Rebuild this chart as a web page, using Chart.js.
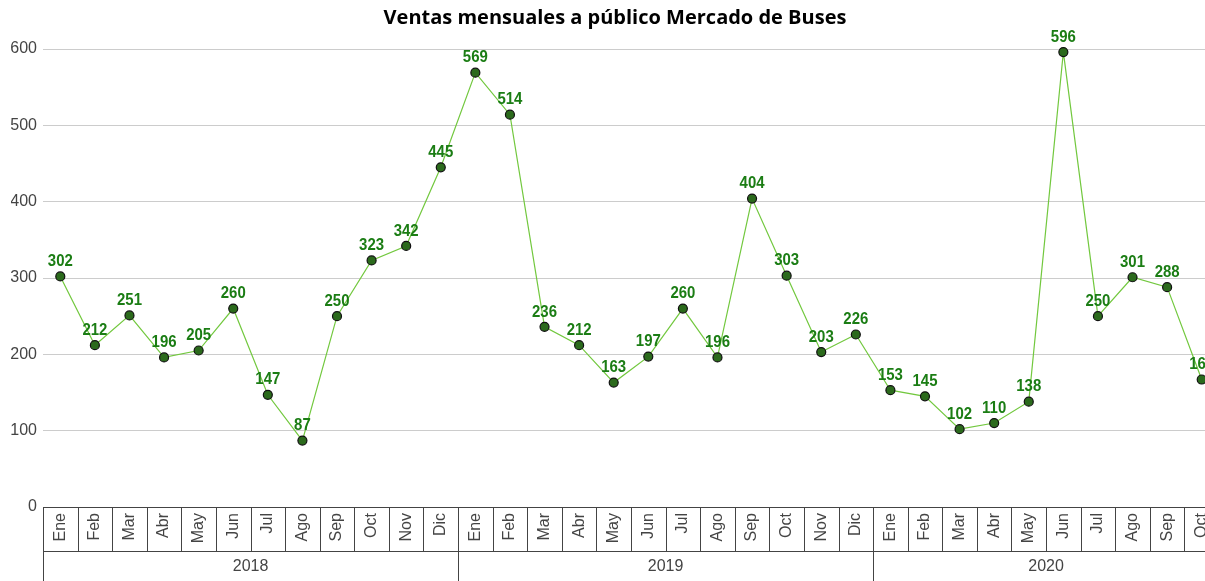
<!DOCTYPE html>
<html>
<head>
<meta charset="utf-8">
<script src="https://cdn.jsdelivr.net/npm/chart.js@4.4.1/dist/chart.umd.min.js"></script>
<style>
  html, body { margin: 0; padding: 0; overflow: hidden; background: #fff; }
  #wrap { width: 1230px; height: 581px; }
</style>
</head>
<body>
<div id="wrap"><canvas id="c" width="1230" height="581"></canvas></div>
<script>
const months = ["Ene","Feb","Mar","Abr","May","Jun","Jul","Ago","Sep","Oct","Nov","Dic",
                "Ene","Feb","Mar","Abr","May","Jun","Jul","Ago","Sep","Oct","Nov","Dic",
                "Ene","Feb","Mar","Abr","May","Jun","Jul","Ago","Sep","Oct"];
const years = ["2018","2019","2020"];
const yearStarts = [0, 12, 24];
const yearCounts = [12, 12, 10];
const sales = [302,212,251,196,205,260,147,87,250,323,342,445,
               569,514,236,212,163,197,260,196,404,303,203,226,
               153,145,102,110,138,596,250,301,288,167];
const yTicks = [0,100,200,300,400,500,600];
const titleText = "Ventas mensuales a público Mercado de Buses";

const labelsPlugin = {
  id: 'valueLabels',
  afterDatasetsDraw(chart) {
    const ctx = chart.ctx;
    const meta = chart.getDatasetMeta(0);
    ctx.save();
    ctx.font = 'bold 17px "Liberation Sans", Arial';
    ctx.fillStyle = '#1b7d14';
    ctx.textAlign = 'center';
    ctx.textBaseline = 'middle';
    meta.data.forEach((pt, i) => {
      ctx.save();
      ctx.translate(pt.x, pt.y - 15);
      ctx.scale(0.88, 1);
      ctx.fillText(String(sales[i]), 0, 0);
      ctx.restore();
    });
    ctx.restore();
  }
};

const tablePlugin = {
  id: 'catTable',
  afterDraw(chart) {
    const ctx = chart.ctx;
    const xs = chart.scales.x;
    const area = chart.chartArea;
    const n = months.length;
    const half = (xs.getPixelForValue(1) - xs.getPixelForValue(0)) / 2;
    const left = xs.getPixelForValue(0) - half;
    const right = xs.getPixelForValue(n - 1) + half;
    const top = area.bottom;
    const mid = top + 44;
    const bottom = chart.height;
    ctx.save();
    ctx.strokeStyle = '#444';
    ctx.lineWidth = 1;
    ctx.beginPath();
    ctx.moveTo(left, Math.round(top) + 0.5); ctx.lineTo(right, Math.round(top) + 0.5);
    ctx.moveTo(left, Math.round(mid) + 0.5); ctx.lineTo(right, Math.round(mid) + 0.5);
    for (let i = 0; i <= n; i++) {
      const x = Math.round(xs.getPixelForValue(i) - half) + 0.5;
      const isYear = yearStarts.includes(i) || i === n;
      ctx.moveTo(x, top);
      ctx.lineTo(x, isYear ? bottom : mid);
    }
    ctx.stroke();
    ctx.fillStyle = '#444';
    ctx.font = '16px "Liberation Sans", Arial';
    ctx.textBaseline = 'middle';
    ctx.textAlign = 'right';
    months.forEach((m, i) => {
      const x = xs.getPixelForValue(i);
      ctx.save();
      ctx.translate(x, top + 6);
      ctx.rotate(-Math.PI / 2);
      ctx.fillText(m, 0, 0);
      ctx.restore();
    });
    ctx.textAlign = 'center';
    ctx.font = '16px "Liberation Sans", Arial';
    years.forEach((y, k) => {
      const a = xs.getPixelForValue(yearStarts[k]) - half;
      const b = xs.getPixelForValue(yearStarts[k] + yearCounts[k] - 1) + half;
      ctx.fillText(y, (a + b) / 2, mid + 16);
    });
    ctx.restore();
  }
};

new Chart(document.getElementById('c'), {
  type: 'line',
  data: {
    labels: months,
    datasets: [{
      data: sales,
      borderColor: '#72c83e',
      borderWidth: 1.2,
      pointRadius: 4.5,
      pointBackgroundColor: '#2b6a1c',
      pointBorderColor: '#111',
      pointBorderWidth: 1.2,
      tension: 0,
      clip: false
    }]
  },
  options: {
    responsive: false,
    animation: false,
    layout: { padding: { left: 11, right: 11, top: 0, bottom: 74 } },
    plugins: {
      legend: { display: false },
      tooltip: { enabled: false },
      title: {
        display: true,
        text: titleText,
        color: '#000',
        font: { family: '"Open Sans", Arial', size: 20, weight: 'bold', lineHeight: 1.2 },
        padding: { top: 6, bottom: 19 }
      }
    },
    scales: {
      x: {
        type: 'category',
        display: false,
        offset: true
      },
      y: {
        min: 0,
        max: 600,
        afterFit: s => { s.width = 32; },
        afterBuildTicks: s => { s.ticks = yTicks.map(v => ({ value: v })); },
        border: { display: false },
        grid: { color: '#cccccc', drawTicks: false, lineWidth: 1 },
        ticks: { color: '#444', font: { family: '"Liberation Sans", Arial', size: 16 }, padding: 6 }
      }
    }
  },
  plugins: [labelsPlugin, tablePlugin]
});
</script>
</body>
</html>
